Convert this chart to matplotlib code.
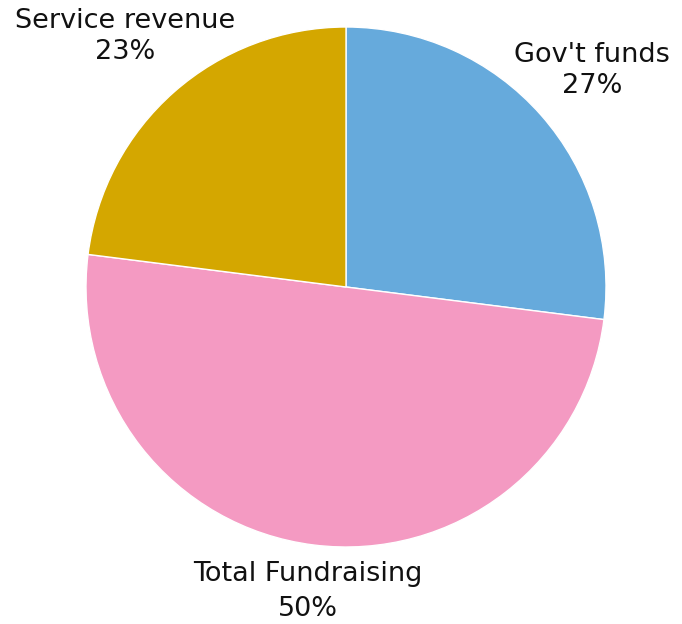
import matplotlib
matplotlib.use("Agg")
import matplotlib.pyplot as plt
import numpy as np

labels = ["Gov't funds", "Total Fundraising", "Service revenue"]
shares = [27, 50, 23]
colors = ["#66AADC", "#F49AC2", "#D4A700"]

fig = plt.figure(figsize=(6.82, 6.24), dpi=100)
ax = fig.add_axes([0, 0, 1, 1])

wedges, texts = ax.pie(shares, colors=colors, startangle=90, counterclock=False,
                       radius=1.0, wedgeprops=dict(edgecolor="white", linewidth=1))

# labels placed outside each wedge, centred
dist = [1.26, 1.18, 1.285]
spacing = [1.25, 1.45, 1.25]
for w, lab, s, d, ls in zip(wedges, labels, shares, dist, spacing):
    ang = np.deg2rad((w.theta1 + w.theta2) / 2)
    x, y = d * np.cos(ang), d * np.sin(ang)
    ax.text(x, y, f"{lab}\n{s}%", ha="center", va="center",
            fontsize=19.5, color="#111111", linespacing=ls,
            family="DejaVu Sans")

ax.set_xlim(-346 / 260, (682 - 346) / 260)
ax.set_ylim(-337 / 260, 287 / 260)
ax.set_aspect("auto")
ax.axis("off")

fig.savefig("out.png", dpi=100)
